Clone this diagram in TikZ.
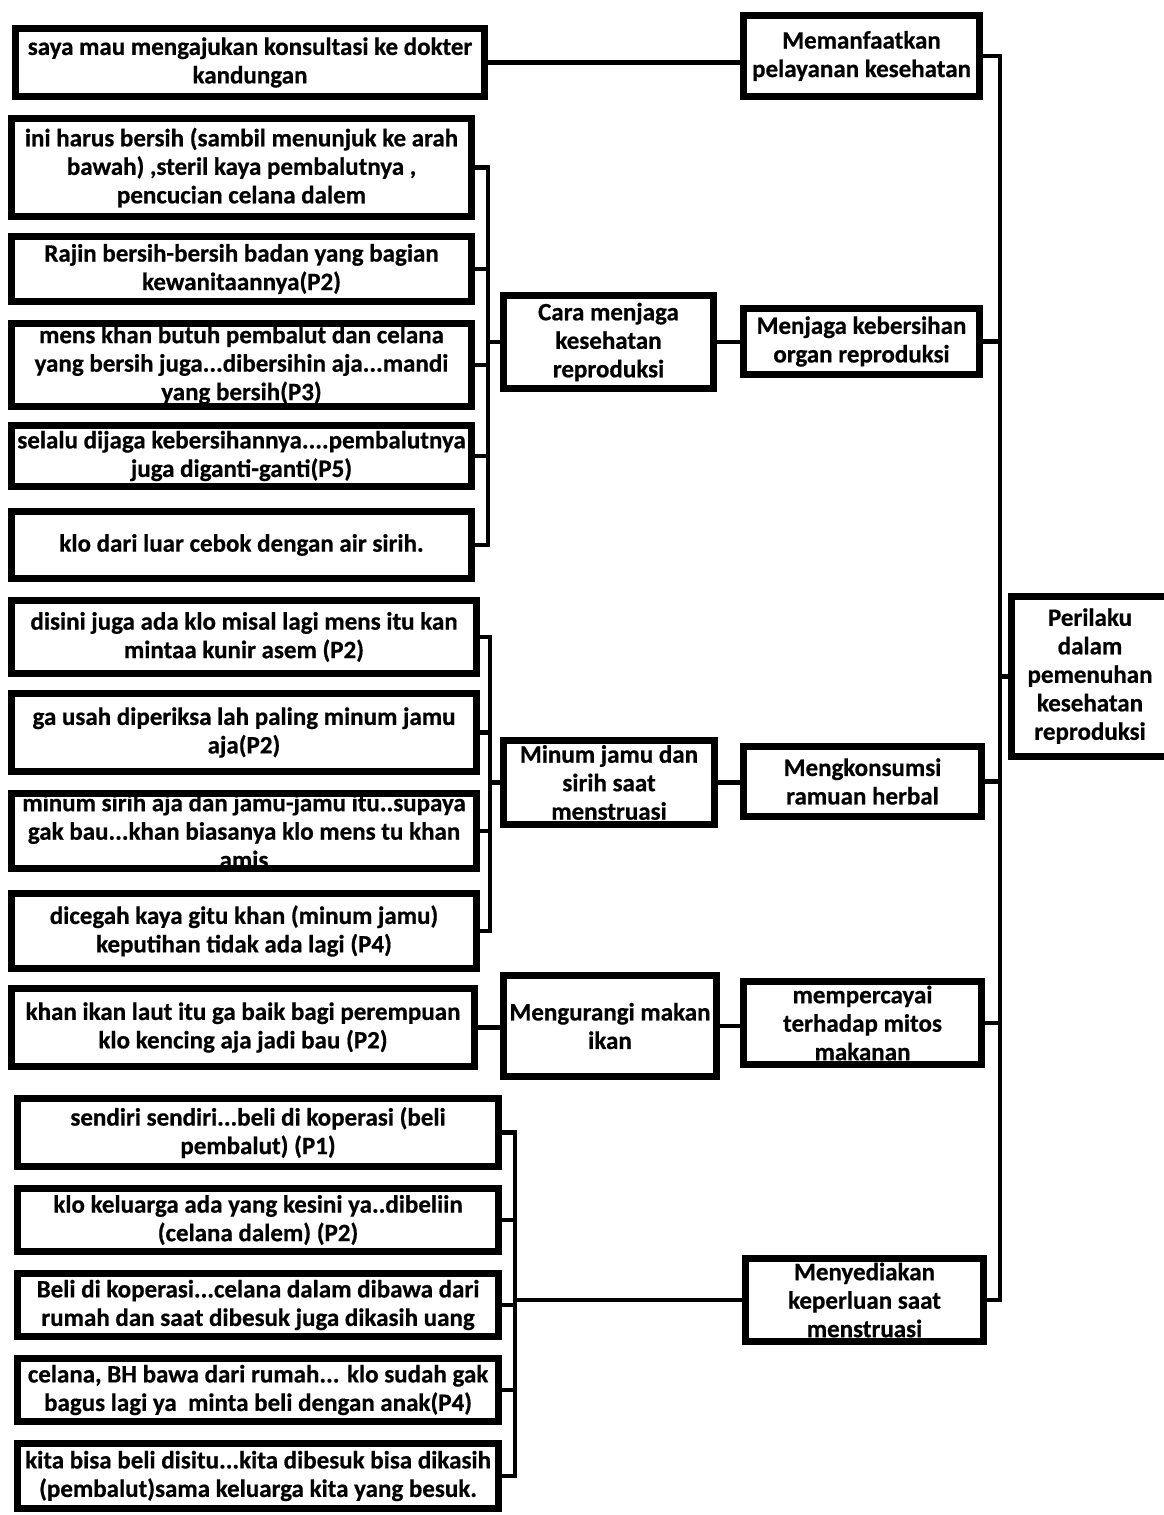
\documentclass[tikz,border=0pt]{standalone}
\usepackage{fontspec}
\setmainfont{Carlito}[BoldFeatures={FakeBold=0.6}]
\newcommand\mkbox[6]{%
  \node[box, minimum width={#4-#2-7}, minimum height={#5-#3-7}] (#1) at ({(#2+#4)/2},{(#3+#5)/2}) {};
  \node[txt] (#1t) at (#1) {#6};}
\begin{document}
\begin{tikzpicture}[x=1pt,y=-1pt,
  box/.style={draw, line width=7pt, inner sep=0pt, rectangle, fill=white},
  txt/.style={font=\fontsize{25}{28.5}\selectfont\bfseries, align=center, inner sep=0pt},
  con/.style={line width=4.5pt}]
\useasboundingbox (0,0) rectangle (1163,1515);
% right column
\mkbox{R1}{740}{12}{983}{100}{Memanfaatkan\\pelayanan kesehatan}
\mkbox{R2}{740}{305}{983}{378}{Menjaga kebersihan\\organ reproduksi}
\mkbox{R3}{740}{743}{985}{820}{Mengkonsumsi\\ramuan herbal}
\mkbox{R4}{740}{978}{985}{1068}{mempercayai\\terhadap mitos\\makanan}
\mkbox{R5}{742}{1255}{987}{1345}{Menyediakan\\keperluan saat\\menstruasi}
\node[box, minimum width=200, minimum height=160] (P) at (1111,676.5) {};
\node[txt] (Pt) at (1090,676) {Perilaku\\dalam\\pemenuhan\\kesehatan\\reproduksi};
% middle column
\mkbox{C1}{500}{292}{717}{392}{Cara menjaga\\kesehatan\\reproduksi}
\mkbox{C2}{500}{737}{718}{828}{Minum jamu dan\\sirih saat\\menstruasi}
\mkbox{C3}{500}{972}{720}{1080}{Mengurangi makan\\ikan}
% left column
\mkbox{L1}{12}{25}{488}{100}{saya mau mengajukan konsultasi ke dokter\\kandungan}
\mkbox{L2}{8}{115}{475}{220}{ini harus bersih (sambil menunjuk ke arah\\bawah) ,steril kaya pembalutnya ,\\pencucian celana dalem}
\mkbox{L3}{8}{233}{475}{305}{Rajin bersih-bersih badan yang bagian\\kewanitaannya(P2)}
\mkbox{L4}{8}{320}{475}{410}{mens khan butuh pembalut dan celana\\yang bersih juga...dibersihin aja...mandi\\yang bersih(P3)}
\mkbox{L5}{8}{422}{475}{490}{selalu dijaga kebersihannya....pembalutnya\\juga diganti-ganti(P5)}
\mkbox{L6}{8}{508}{475}{582}{klo dari luar cebok dengan air sirih.}
\mkbox{L7}{8}{597}{480}{677}{disini juga ada klo misal lagi mens itu kan\\mintaa kunir asem (P2)}
\mkbox{L8}{8}{690}{480}{775}{ga usah diperiksa lah paling minum jamu\\aja(P2)}
\mkbox{L9}{8}{790}{480}{872}{minum sirih aja dan jamu-jamu itu..supaya\\gak bau...khan biasanya klo mens tu khan\\amis}
\mkbox{L10}{8}{890}{480}{972}{dicegah kaya gitu khan (minum jamu)\\keputihan tidak ada lagi (P4)}
\mkbox{L11}{8}{985}{478}{1070}{khan ikan laut itu ga baik bagi perempuan\\klo kencing aja jadi bau (P2)}
\mkbox{L12}{14}{1095}{502}{1170}{sendiri sendiri...beli di koperasi (beli\\pembalut) (P1)}
\mkbox{L13}{14}{1185}{502}{1255}{klo keluarga ada yang kesini ya..dibeliin\\(celana dalem) (P2)}
\mkbox{L14}{14}{1270}{502}{1340}{Beli di koperasi...celana dalam dibawa dari\\rumah dan saat dibesuk juga dikasih uang}
\mkbox{L15}{14}{1355}{502}{1425}{celana, BH bawa dari rumah... klo sudah gak\\bagus lagi ya\ \ minta beli dengan anak(P4)}
\mkbox{L16}{14}{1440}{502}{1512}{kita bisa beli disitu...kita dibesuk bisa dikasih\\(pembalut)sama keluarga kita yang besuk.}
% bus coordinates
\coordinate (g1) at (488,0);
\coordinate (g2) at (490,0);
\coordinate (g4) at (515,0);
\coordinate (rb) at (1000,0);
% connectors
\draw[con] (L1.east) -- (L1.east -| R1.west);
\draw[con] (L2.east) -- (L2.east -| g1) -- (L6.east -| g1) -- (L6.east);
\foreach \n in {L3,L4,L5} \draw[con] (\n.east) -- (\n.east -| g1);
\draw[con] (C1.west -| g1) -- (C1.west);
\draw[con] (C1.east) -- (C1.east -| R2.west);
\draw[con] (L7.east) -- (L7.east -| g2) -- (L10.east -| g2) -- (L10.east);
\foreach \n in {L8,L9} \draw[con] (\n.east) -- (\n.east -| g2);
\draw[con] (C2.west -| g2) -- (C2.west);
\draw[con] (C2.east) -- (C2.east -| R3.west);
\draw[con] (L11.east) -- (L11.east -| C3.west);
\draw[con] (C3.east) -- (C3.east -| R4.west);
\draw[con] (L12.east) -- (L12.east -| g4) -- (L16.east -| g4) -- (L16.east);
\foreach \n in {L13,L14,L15} \draw[con] (\n.east) -- (\n.east -| g4);
\draw[con] (R5.west -| g4) -- (R5.west);
\draw[con] (R1.east) -- (R1.east -| rb) -- (R5.east -| rb) -- (R5.east);
\foreach \n in {R2,R3,R4} \draw[con] (\n.east) -- (\n.east -| rb);
\draw[con] (P.west) -- (P.west -| rb);
\end{tikzpicture}
\end{document}
